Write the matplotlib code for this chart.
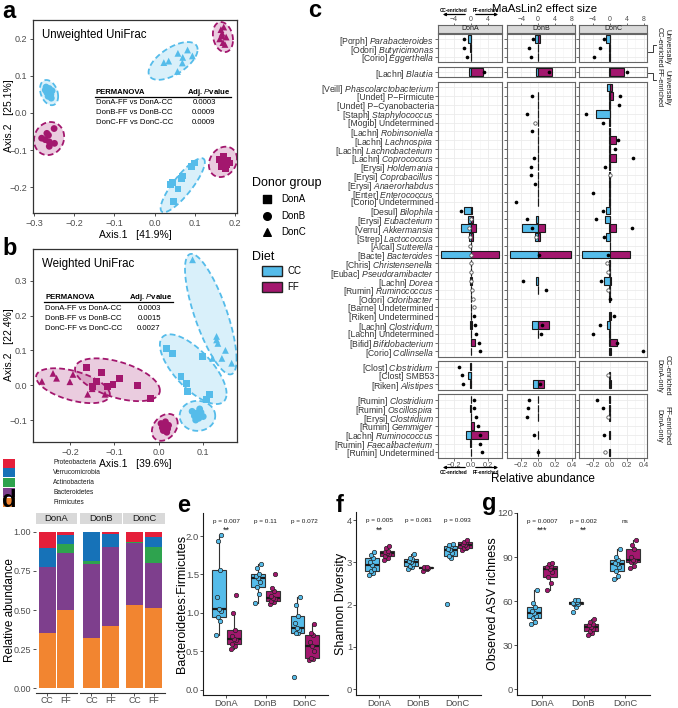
import numpy as np
import matplotlib
matplotlib.use("Agg")
import matplotlib.pyplot as plt
from matplotlib.patches import Rectangle, Polygon

plt.rcParams['font.family'] = ['Liberation Sans', 'DejaVu Sans']
plt.rcParams['mathtext.fontset'] = 'custom'
plt.rcParams['mathtext.rm'] = 'Liberation Sans'
plt.rcParams['mathtext.it'] = 'Liberation Sans:italic'
plt.rcParams['mathtext.bf'] = 'Liberation Sans:bold'

N = np.nan

# ===================== DATA =====================
donors = ['DonA', 'DonB', 'DonC']
diets = ['CC', 'FF']

# (a) Unweighted UniFrac PCoA (Axis.1, Axis.2)
unw_A_CC = [(0.100, -0.135), (0.092, -0.145), (0.070, -0.170), (0.066, -0.176),
            (0.044, -0.188), (0.040, -0.193), (0.048, -0.238), (0.058, -0.205)]
unw_A_FF = [(0.160, -0.125), (0.172, -0.118), (0.182, -0.128), (0.178, -0.140),
            (0.165, -0.145), (0.186, -0.135), (0.170, -0.132), (0.176, -0.150)]
unw_B_CC = [(-0.270, 0.070), (-0.262, 0.066), (-0.255, 0.060), (-0.268, 0.055),
            (-0.258, 0.050), (-0.265, 0.045), (-0.272, 0.062), (-0.257, 0.040)]
unw_B_FF = [(-0.281, -0.068), (-0.264, -0.060), (-0.250, -0.042), (-0.262, -0.078),
            (-0.272, -0.072), (-0.262, -0.090), (-0.249, -0.082), (-0.268, -0.055)]
unw_C_CC = [(0.023, 0.136), (0.035, 0.140), (0.058, 0.161), (0.082, 0.170),
            (0.094, 0.154), (0.069, 0.135), (0.057, 0.112), (0.070, 0.150)]
unw_C_FF = [(0.165, 0.225), (0.172, 0.232), (0.168, 0.215), (0.178, 0.205),
            (0.162, 0.200), (0.170, 0.190), (0.175, 0.185), (0.168, 0.208)]
# group ellipses (centre x, centre y, half-extent x, half-extent y, correlation)
unw_A_CC_ell = (0.070, -0.195, 0.055, 0.073, 0.85)
unw_A_FF_ell = (0.170, -0.132, 0.035, 0.041, 0.2)
unw_B_CC_ell = (-0.2625, 0.055, 0.0225, 0.034, -0.3)
unw_B_FF_ell = (-0.2625, -0.069, 0.0375, 0.0446, 0.1)
unw_C_CC_ell = (0.046, 0.1405, 0.061, 0.051, 0.6)
unw_C_FF_ell = (0.170, 0.205, 0.025, 0.0405, -0.2)

# (b) Weighted UniFrac PCoA
wu_A_CC = [(0.018, 0.106), (0.030, 0.090), (0.063, 0.006), (0.065, -0.017),
           (0.108, -0.040), (0.115, -0.026), (0.099, 0.083), (0.050, 0.025)]
wu_A_FF = [(-0.162, 0.051), (-0.128, 0.037), (-0.088, 0.020), (-0.047, 0.000),
           (-0.018, -0.037), (-0.103, 0.003), (-0.115, -0.003), (-0.140, 0.011), (-0.150, -0.003)]
wu_B_CC = [(0.075, -0.075), (0.085, -0.080), (0.095, -0.078), (0.090, -0.095),
           (0.080, -0.088), (0.100, -0.090), (0.092, -0.068), (0.083, -0.100)]
wu_B_FF = [(0.005, -0.110), (0.012, -0.118), (0.020, -0.125), (0.008, -0.122),
           (0.015, -0.105), (0.022, -0.115), (0.010, -0.130), (0.018, -0.135)]
wu_C_CC = [(0.076, 0.360), (0.130, 0.140), (0.130, 0.130), (0.133, 0.120),
           (0.121, 0.077), (0.142, 0.077), (0.164, 0.063), (0.150, 0.100)]
wu_C_FF = [(-0.263, 0.011), (-0.238, 0.034), (-0.193, 0.031), (-0.160, -0.026),
           (-0.121, -0.026), (-0.200, 0.010), (-0.150, -0.010), (-0.230, 0.020)]
wu_A_CC_ell = (0.0775, 0.046, 0.075, 0.100, -0.7)
wu_A_FF_ell = (-0.093, 0.0157, 0.0955, 0.0614, -0.5)
wu_B_CC_ell = (0.087, -0.088, 0.040, 0.043, 0.0)
wu_B_FF_ell = (0.0135, -0.121, 0.029, 0.0386, 0.3)
wu_C_CC_ell = (0.117, 0.204, 0.058, 0.173, -0.75)
wu_C_FF_ell = (-0.193, -0.0014, 0.083, 0.050, -0.5)

perm_comparisons = ['DonA-FF vs DonA-CC', 'DonB-FF vs DonB-CC', 'DonC-FF vs DonC-CC']
perm_a_pvalues = ['0.0003', '0.0009', '0.0009']
perm_b_pvalues = ['0.0003', '0.0015', '0.0027']

# (c) MaAsLin2: taxa (family, genus, italic) and block sizes
c_taxa = [
    ('Porph', 'Parabacteroides', 1), ('Odori', 'Butyricimonas', 1), ('Corio', 'Eggerthella', 1),
    ('Lachn', 'Blautia', 1),
    ('Veill', 'Phascolarctobacterium', 1), ('Undet', 'P\u2212Firmicute', 0), ('Undet', 'P\u2212Cyanobacteria', 0),
    ('Staph', 'Staphylococcus', 1), ('Mogib', 'Undetermined', 0), ('Lachn', 'Robinsoniella', 1),
    ('Lachn', 'Lachnospira', 1), ('Lachn', 'Lachnobacterium', 1), ('Lachn', 'Coprococcus', 1),
    ('Erysi', 'Holdemania', 1), ('Erysi', 'Coprobacillus', 1), ('Erysi', 'Anaerorhabdus', 1),
    ('Enter', 'Enterococcus', 1), ('Corio', 'Undetermined', 0), ('Desul', 'Bilophila', 1),
    ('Erysi', 'Eubacterium', 1), ('Verru', 'Akkermansia', 1), ('Strep', 'Lactococcus', 1),
    ('Alcal', 'Sutterella', 1), ('Bacte', 'Bacteroides', 1), ('Chris', 'Christensenella', 1),
    ('Eubac', 'Pseudoramibacter', 1), ('Lachn', 'Dorea', 1), ('Rumin', 'Ruminococcus', 1),
    ('Odori', 'Odoribacter', 1), ('Barne', 'Undetermined', 0), ('Riken', 'Undetermined', 0),
    ('Lachn', 'Clostridium', 1), ('Lachn', 'Undetermined', 0), ('Bifid', 'Bifidobacterium', 1),
    ('Corio', 'Collinsella', 1),
    ('Clost', 'Clostridium', 1), ('Clost', 'SMB53', 0), ('Riken', 'Alistipes', 1),
    ('Rumin', 'Clostridium', 1), ('Rumin', 'Oscillospira', 1), ('Erysi', 'Clostridium', 1),
    ('Rumin', 'Gemmiger', 1), ('Lachn', 'Ruminococcus', 1), ('Rumin', 'Faecalibacterium', 1),
    ('Rumin', 'Undetermined', 0),
]
c_block_sizes = [3, 1, 31, 3, 7]
c_block_labels = ['Universally\nCC-enriched', 'Universally\nFF-enriched', '',
                  'CC-enriched\nDonA-only', 'FF-enriched\nDonA-only']

# relative abundance (CC drawn to the left, FF to the right), effect size, open (n.s.) dots
A_cc = [.03, .005, .003, .025, N, N, N, N, N, N, N, N, N, N, N, N, N, N,
        .085, .03, .11, .025, .004, .35, .003, .003, .01, .003, .002, .002, .003, .01, .002, .003, .002,
        .012, .035, .01, .003, .012, .002, .003, .058, .005, .002]
A_ff = [.003, .002, .002, .145, N, N, N, N, N, N, N, N, N, N, N, N, N, N,
        .015, .03, .058, .02, .002, .33, .003, .003, .01, .003, .004, .003, .003, .01, .003, .05, .004,
        .002, .002, .003, .004, .006, .003, .04, .20, .005, .002]
A_eff = [-1.7, -1.5, -0.8, 3.1, N, N, N, N, N, N, N, N, N, N, N, N, N, N,
         -2.3, 0.0, -0.5, -0.1, -0.3, 0.0, 0.0, 0.05, 0.1, 0.23, 0.46, 0.69, 0.77, 0.85, 1.23, 1.85, 2.08,
         -2.7, -2.1, -1.9, 0.77, 0.77, 1.23, 1.6, 2.0, 2.0, 2.5]
A_open = [0, 0, 0, 0, 0, 0, 0, 0, 0, 0, 0, 0, 0, 0, 0, 0, 0, 0,
          0, 1, 1, 1, 1, 1, 1, 1, 1, 1, 1, 1, 0, 0, 0, 0, 0,
          0, 0, 0, 0, 0, 0, 0, 0, 0, 0]

B_cc = [.035, .003, .003, .03, N, .002, .002, .002, .002, .003, .002, .002, .003, .002, .002, .002, .002, .002,
        N, .025, .19, .04, N, .33, N, N, .02, .003, N, N, N, .077, .003, N, N,
        N, N, .058, .002, .003, .002, N, .003, N, .005]
B_ff = [.025, .002, .002, .17, N, .002, .002, .002, .002, .003, .002, .002, .003, .002, .002, .002, .002, .002,
        N, .003, .077, .027, N, .39, N, N, .003, .005, N, N, N, .135, .003, N, N,
        N, N, .07, .002, .003, .002, N, .003, N, .005]
B_eff = [-1.3, -2.2, -1.7, 2.5, N, -1.4, N, -2.6, -0.8, -1.5, N, N, -0.85, -1.6, -1.7, -0.8, N, -5.2,
         N, -2.7, -1.4, -0.4, N, 0.2, N, N, -3.6, 1.9, N, N, N, 0.85, 0.6, N, N,
         N, N, 0.4, -2.15, -2.5, -2.7, N, -0.85, N, -0.1]
B_open = [0, 0, 0, 0, 0, 0, 0, 0, 1, 0, 0, 0, 0, 0, 0, 0, 0, 0,
          0, 0, 0, 1, 0, 0, 0, 0, 0, 0, 0, 0, 0, 0, 0, 0, 0,
          0, 0, 0, 0, 0, 0, 0, 0, 0, 0]

C_cc = [.04, .003, .003, .005, .03, .003, .002, .16, .002, .002, .002, .002, .002, .002, .002, .002, .002, .002,
        .045, .05, .003, .045, .001, .32, .002, .002, .065, .002, .002, N, .003, .03, .002, .003, .003,
        N, .002, .003, .002, .003, .002, N, .005, N, .005]
C_ff = [.003, .002, .002, .17, .03, .045, .002, .002, .002, .002, .075, .002, .075, .002, .004, .002, .002, .002,
        .01, .003, .07, .003, .001, .24, .002, .002, .02, .002, .003, N, .015, .005, .002, .085, .02,
        N, .002, .015, .002, .003, .002, N, .008, N, .005]
C_eff = [-1.4, -2.3, -3.6, 4.2, N, 2.5, 2.1, -5.5, -1.5, N, 2.0, 1.3, 5.5, -1.15, 0.2, N, -3.85, N,
         -1.5, -3.1, 5.2, -1.3, N, -0.4, -0.5, -0.4, -2.1, -0.4, 0.0, N, 1.15, -2.3, -3.85, 1.7, 7.85,
         N, -0.4, N, -2.9, -1.5, -0.4, N, -1.3, N, -1.15]
C_open = [0, 0, 0, 0, 0, 0, 0, 0, 0, 0, 0, 0, 0, 0, 1, 0, 0, 0,
          0, 0, 0, 0, 0, 0, 1, 1, 0, 1, 0, 0, 0, 0, 0, 0, 0,
          0, 1, 0, 0, 0, 1, 0, 0, 0, 1]

# (d) phylum composition, bottom -> top
phyla = ['Firmicutes', 'Bacteroidetes', 'Actinobacteria', 'Verrucomicrobia', 'Proteobacteria']
phyla_colors = ['#F28530', '#7E3F8D', '#2EA34E', '#1672B8', '#E51F3A']
comp_A_CC = [0.355, 0.421, 0.000, 0.123, 0.101]
comp_A_FF = [0.500, 0.367, 0.058, 0.056, 0.019]
comp_B_CC = [0.323, 0.473, 0.017, 0.183, 0.004]
comp_B_FF = [0.400, 0.503, 0.003, 0.077, 0.017]
comp_C_CC = [0.530, 0.400, 0.003, 0.005, 0.062]
comp_C_FF = [0.515, 0.285, 0.100, 0.070, 0.030]

# (e) Bacteroidetes:Firmicutes
e_A_CC = [0.71, 0.90, 0.95, 1.02, 1.05, 1.20, 1.56, 1.93, 2.01]
e_A_FF = [0.53, 0.57, 0.60, 0.64, 0.66, 0.70, 0.78, 1.00, 1.23]
e_B_CC = [1.13, 1.25, 1.34, 1.40, 1.46, 1.48, 1.51, 1.58, 1.63]
e_B_FF = [1.12, 1.14, 1.16, 1.18, 1.19, 1.22, 1.28, 1.32, 1.51]
e_C_CC = [0.17, 0.74, 0.74, 0.77, 0.80, 0.87, 0.96, 1.10, 1.20]
e_C_FF = [0.39, 0.40, 0.41, 0.50, 0.57, 0.62, 0.71, 0.74, 0.85]
e_ptext = ['p = 0.007', 'p = 0.11', 'p = 0.072']
e_stars = ['**', '', '']

# (f) Shannon diversity
f_A_CC = [2.70, 2.75, 2.80, 2.85, 2.93, 3.00, 3.10, 3.18, 3.25]
f_A_FF = [3.05, 3.10, 3.15, 3.20, 3.22, 3.24, 3.27, 3.33, 3.38]
f_B_CC = [2.85, 2.90, 2.92, 2.97, 3.00, 3.03, 3.07, 3.10, 3.20]
f_B_FF = [2.80, 2.85, 2.86, 2.87, 2.875, 2.88, 2.89]
f_C_CC = [2.02, 3.10, 3.16, 3.22, 3.28, 3.31, 3.38, 3.40, 3.43]
f_C_FF = [3.30, 3.33, 3.33, 3.37, 3.40, 3.43, 3.47, 3.49, 3.52]
f_ptext = ['p = 0.005', 'p = 0.081', 'p = 0.093']
f_stars = ['**', '', '']

# (g) Observed ASV richness
g_A_CC = [44.5, 46, 48.2, 50, 51.6, 53, 56.1, 59, 67.5]
g_A_FF = [67.5, 72, 76.5, 80, 82, 83, 84, 85, 85.6]
g_B_CC = [52.5, 56, 57.7, 58.2, 58.6, 59, 59.5, 60.5, 61]
g_B_FF = [37, 38.5, 39.8, 41, 42.6, 43.5, 44.4, 46, 48]
g_C_CC = [74.7, 77, 80.4, 83, 85, 86, 87.8, 90, 95.8]
g_C_FF = [82.6, 84, 86.3, 87, 87.8, 90, 95.8, 98, 101.9]
g_ptext = ['p = 0.0007', 'p = 0.002', 'ns']
g_stars = ['***', '**', '']

# ===================== STYLE / HELPERS =====================
W, H = 678, 708
fig = plt.figure(figsize=(W / 100, H / 100), dpi=100)
CC_COL = '#55BCEA'
FF_COL = '#A3176E'
DIET_COL = {'CC': CC_COL, 'FF': FF_COL}
TXT_GREY = '#4D4D4D'


def px_rect(l, t, r, b):
    return [l / W, 1 - b / H, (r - l) / W, (b - t) / H]


def mfmt(v, d=1):
    return f"{v:.{d}f}".replace('-', '\u2212')


ov = fig.add_axes([0, 0, 1, 1], zorder=20)
ov.set_xlim(0, W)
ov.set_ylim(H, 0)
ov.axis('off')
ov.patch.set_alpha(0)


def ellipse_pts(ell, seg=120):
    cx, cy, rx, ry, rho = ell
    t = np.linspace(0, 2 * np.pi, seg)
    x = cx + rx * np.cos(t)
    y = cy + ry * (rho * np.cos(t) + np.sqrt(1 - rho ** 2) * np.sin(t))
    return np.column_stack([x, y])


def pcoa_panel(ax, groups, xlim, ylim, xticks, yticks, title, xlab):
    for pts, ell, diet, mk in groups:
        col = DIET_COL[diet]
        e = ellipse_pts(ell)
        ax.add_patch(Polygon(e, closed=True, facecolor=col, alpha=0.22, edgecolor='none', zorder=1))
        ax.add_patch(Polygon(e, closed=True, facecolor='none', edgecolor=col,
                             linestyle=(0, (3.2, 1.8)), lw=1.3, zorder=2))
    for pts, ell, diet, mk in groups:
        P = np.asarray(pts)
        ax.scatter(P[:, 0], P[:, 1], marker=mk, s=24, color=DIET_COL[diet], edgecolors='none', zorder=3)
    ax.set_xlim(*xlim)
    ax.set_ylim(*ylim)
    ax.set_xticks(xticks)
    ax.set_xticklabels([mfmt(v) for v in xticks])
    ax.set_yticks(yticks)
    ax.set_yticklabels([mfmt(v) for v in yticks])
    for s in ax.spines.values():
        s.set_color('#333333')
        s.set_linewidth(0.9)
    ax.tick_params(direction='out', length=2.5, width=0.6, colors='#333333',
                   labelsize=6.5, labelcolor=TXT_GREY, pad=1.5)
    ax.set_xlabel(xlab, fontsize=7.5, labelpad=2)
    ax.text(0.045, 0.955, title, transform=ax.transAxes, fontsize=8.3, va='top', ha='left')


# ===================== PANEL a =====================
axa = fig.add_axes(px_rect(33, 20, 237, 213))
pcoa_panel(axa,
           [(unw_A_CC, unw_A_CC_ell, 'CC', 's'), (unw_A_FF, unw_A_FF_ell, 'FF', 's'),
            (unw_B_CC, unw_B_CC_ell, 'CC', 'o'), (unw_B_FF, unw_B_FF_ell, 'FF', 'o'),
            (unw_C_CC, unw_C_CC_ell, 'CC', '^'), (unw_C_FF, unw_C_FF_ell, 'FF', '^')],
           (-0.3025, 0.205), (-0.270, 0.251),
           [-0.3, -0.2, -0.1, 0.0, 0.1, 0.2], [-0.2, -0.1, 0.0, 0.1, 0.2],
           'Unweighted UniFrac', 'Axis.1   [41.9%]')
ov.text(9, 116, 'Axis.2   [25.1%]', rotation=90, fontsize=7.5, ha='center', va='center')

# ===================== PANEL b =====================
axb = fig.add_axes(px_rect(33, 249, 237, 442))
pcoa_panel(axb,
           [(wu_A_CC, wu_A_CC_ell, 'CC', 's'), (wu_A_FF, wu_A_FF_ell, 'FF', 's'),
            (wu_B_CC, wu_B_CC_ell, 'CC', 'o'), (wu_B_FF, wu_B_FF_ell, 'FF', 'o'),
            (wu_C_CC, wu_C_CC_ell, 'CC', '^'), (wu_C_FF, wu_C_FF_ell, 'FF', '^')],
           (-0.283, 0.176), (-0.163, 0.391),
           [-0.2, -0.1, 0.0, 0.1], [-0.1, 0.0, 0.1, 0.2, 0.3],
           'Weighted UniFrac', 'Axis.1   [39.6%]')
ov.text(9, 345, 'Axis.2   [22.4%]', rotation=90, fontsize=7.5, ha='center', va='center')


def perm_table(x0, x1, xval, yhead, rows_y, pvals):
    ov.text(x0, yhead, 'PERMANOVA', fontsize=5.6, fontweight='bold', ha='left', va='center')
    ov.text(x1, yhead, r'Adj. $\mathbf{\mathit{P}}$value', fontsize=5.6, fontweight='bold',
            ha='right', va='center')
    ov.plot([x0 - 1, x1 + 1], [yhead + 4.5, yhead + 4.5], color='black', lw=0.9)
    for yy, comp, p in zip(rows_y, perm_comparisons, pvals):
        ov.text(x0, yy, comp, fontsize=5.6, ha='left', va='center')
        ov.text(xval, yy, p, fontsize=5.6, ha='center', va='center')


perm_table(96, 230, 204, 92, [102, 112, 122], perm_a_pvalues)
perm_table(45, 172, 149, 297.5, [308, 318, 328], perm_b_pvalues)

# legend (donor group / diet)
ov.text(252, 183, 'Donor group', fontsize=9, ha='left', va='center')
for yy, mk, lab in zip([199, 216, 232], ['s', 'o', '^'], donors):
    ov.scatter([267], [yy], marker=mk, s=30, color='black')
    ov.text(281, yy, lab, fontsize=7, ha='left', va='center')
ov.text(252, 257, 'Diet', fontsize=9, ha='left', va='center')
for yy, d in zip([271, 287], diets):
    ov.add_patch(Rectangle((262, yy - 5), 20, 10, facecolor=DIET_COL[d], edgecolor='#222222', lw=1.0))
    ov.text(287, yy, d, fontsize=7, ha='left', va='center')

# ===================== PANEL c =====================
c_cols_px = [(438, 502), (507, 575), (579, 647)]
c_xlims = [(-0.38, 0.36), (-0.37, 0.44), (-0.36, 0.44)]
c_xticks = [[-0.2, 0.0, 0.2], [-0.2, 0.0, 0.2, 0.4], [-0.2, 0.0, 0.2, 0.4]]
c_unit = 8.8
c_gap = 4.7
c_rows_px = []
ytop = 34.0
for nb in c_block_sizes:
    hh = (nb + 0.2) * c_unit
    c_rows_px.append((ytop, ytop + hh))
    ytop += hh + c_gap
c_label_y = [47, 88, None, None, None]

c_data = [(A_cc, A_ff, A_eff, A_open), (B_cc, B_ff, B_eff, B_open), (C_cc, C_ff, C_eff, C_open)]
labels_c = [f"[{fam}] $\\mathit{{{gen}}}$" if it else f"[{fam}] {gen}" for fam, gen, it in c_taxa]

start = 0
for bi, nb in enumerate(c_block_sizes):
    idx = np.arange(start, start + nb)
    t, b = c_rows_px[bi]
    for k in range(3):
        l, r = c_cols_px[k]
        ax = fig.add_axes(px_rect(l, t, r, b))
        cc, ff, eff, opn = [np.asarray(v, float) for v in c_data[k]]
        yy = np.arange(nb)
        ccv, ffv = cc[idx], ff[idx]
        m1 = ~np.isnan(ccv)
        ax.barh(yy[m1], -ccv[m1], height=0.86, color=CC_COL, edgecolor='#1a1a1a', lw=0.8, zorder=3)
        m2 = ~np.isnan(ffv)
        ax.barh(yy[m2], ffv[m2], height=0.86, color=FF_COL, edgecolor='#1a1a1a', lw=0.8, zorder=3)
        ev, ov_ = eff[idx], opn[idx]
        mf = (~np.isnan(ev)) & (ov_ == 0)
        mo = (~np.isnan(ev)) & (ov_ == 1)
        ax.scatter(ev[mf] / 20.0, yy[mf], s=7, color='black', zorder=4, linewidths=0)
        ax.scatter(ev[mo] / 20.0, yy[mo], s=6, facecolor='white', edgecolor='#555555', lw=0.6, zorder=4)
        ax.set_xlim(*c_xlims[k])
        ax.set_ylim(nb - 0.4, -0.6)
        xt = c_xticks[k]
        ax.set_xticks(xt)
        minors = [v + 0.1 for v in xt[:-1]] + [xt[0] - 0.1]
        if xt[-1] + 0.1 < c_xlims[k][1]:
            minors.append(xt[-1] + 0.1)
        ax.set_xticks(minors, minor=True)
        ax.set_yticks(yy)
        ax.grid(True, which='major', color='#EBEBEB', lw=0.6, zorder=0)
        ax.grid(True, which='minor', axis='x', color='#F4F4F4', lw=0.4, zorder=0)
        ax.set_axisbelow(True)
        for s in ax.spines.values():
            s.set_color('#666666')
            s.set_linewidth(0.8)
        ax.tick_params(which='minor', length=0)
        ax.tick_params(axis='x', which='major', direction='out', length=2, width=0.5,
                       colors='#333333', labelsize=5.3, labelcolor=TXT_GREY, pad=1.2)
        ax.tick_params(axis='y', direction='out', length=2, width=0.5, colors='#333333', pad=1)
        if k == 0:
            ax.set_yticklabels([labels_c[i] for i in idx], fontsize=6.2, color='#333333')
        else:
            ax.tick_params(axis='y', labelleft=False)
        if bi == len(c_block_sizes) - 1:
            ax.set_xticklabels([mfmt(v) for v in xt])
        else:
            ax.tick_params(axis='x', labelbottom=False, length=0)
        if bi == 0:
            # strip with secondary (effect size) axis on top
            sax = fig.add_axes(px_rect(l, 25, r, 33))
            sax.set_facecolor('#D9D9D9')
            sax.set_xlim(c_xlims[k][0] * 20, c_xlims[k][1] * 20)
            sax.set_ylim(0, 1)
            sax.set_yticks([])
            top_t = [v * 20 for v in xt]
            sax.set_xticks(top_t)
            sax.set_xticklabels([mfmt(v, 0) for v in top_t])
            sax.xaxis.set_ticks_position('top')
            sax.tick_params(axis='x', direction='out', length=1.5, width=0.5, colors='#333333',
                            labelsize=5.0, labelcolor=TXT_GREY, pad=0.2)
            for s in sax.spines.values():
                s.set_color('#666666')
                s.set_linewidth(0.8)
            sax.text(0.5, 0.5, donors[k], transform=sax.transAxes, fontsize=5.0,
                     ha='center', va='center', color='#1a1a1a')
    if c_block_labels[bi]:
        ly = c_label_y[bi] if c_label_y[bi] is not None else (t + b) / 2
        ov.text(663, ly, c_block_labels[bi], rotation=-90, fontsize=5.2,
                ha='center', va='center', linespacing=1.1, color='#1a1a1a')
    start += nb

# brackets linking the "universally" labels to their rows
ov.plot([648, 653, 653, 656], [52, 52, 45, 45], color='#1a1a1a', lw=0.6)
ov.plot([648, 653, 653, 656], [73, 73, 80, 80], color='#1a1a1a', lw=0.6)

ov.text(545, 8.5, 'MaAsLin2 effect size', fontsize=8.2, ha='center', va='center')
ov.text(543, 479, 'Relative abundance', fontsize=8.5, ha='center', va='center')
for yy_arrow, yy_txt in [(14.5, 11.0), (467.5, 472.5)]:
    ov.annotate('', xy=(440, yy_arrow), xytext=(468, yy_arrow),
                arrowprops=dict(arrowstyle='-|>', lw=0.9, color='black', mutation_scale=4))
    ov.annotate('', xy=(501, yy_arrow), xytext=(473, yy_arrow),
                arrowprops=dict(arrowstyle='-|>', lw=0.9, color='black', mutation_scale=4))
    ov.text(454, yy_txt, 'CC-enriched', fontsize=3.3, ha='center', va='center', fontweight='bold')
    ov.text(486, yy_txt, 'FF-enriched', fontsize=3.3, ha='center', va='center', fontweight='bold')

# ===================== PANEL d =====================
d_cols_px = [(36, 77), (80, 122), (123, 165)]
d_comp = {'DonA': (comp_A_CC, comp_A_FF), 'DonB': (comp_B_CC, comp_B_FF), 'DonC': (comp_C_CC, comp_C_FF)}
for k, don in enumerate(donors):
    l, r = d_cols_px[k]
    ax = fig.add_axes(px_rect(l, 524, r, 693))
    for xi, comp in zip([1, 2], d_comp[don]):
        bottom = 0.0
        for val, col in zip(comp, phyla_colors):
            ax.bar(xi, val, bottom=bottom, width=0.9, color=col, edgecolor='none')
            bottom += val
    ax.set_xlim(0.4, 2.6)
    ax.set_ylim(-0.03, 1.05)
    ax.set_xticks([1, 2])
    ax.set_xticklabels(diets)
    for side in ['top', 'right', 'left']:
        ax.spines[side].set_visible(False)
    ax.spines['bottom'].set_color('#333333')
    ax.spines['bottom'].set_linewidth(0.8)
    ax.tick_params(axis='x', direction='out', length=2.0, width=0.6, colors='#333333',
                   labelsize=6.3, labelcolor=TXT_GREY, pad=0.5)
    yt = [0.0, 0.25, 0.5, 0.75, 1.0]
    ax.set_yticks(yt)
    if k == 0:
        ax.set_yticklabels([f"{v:.2f}" for v in yt])
        ax.tick_params(axis='y', direction='out', length=2.5, width=0.6, colors='#333333',
                       labelsize=6.5, labelcolor=TXT_GREY, pad=1)
    else:
        ax.tick_params(axis='y', left=False, labelleft=False)
    sax = fig.add_axes(px_rect(l, 513, r, 524))
    sax.set_facecolor('#D9D9D9')
    sax.set_xticks([])
    sax.set_yticks([])
    for s in sax.spines.values():
        s.set_visible(False)
    sax.text(0.5, 0.5, don, transform=sax.transAxes, fontsize=6.8, ha='center', va='center', color='#1a1a1a')
ov.text(10, 610, 'Relative abundance', rotation=90, fontsize=8.5, ha='center', va='center')

for i, (ph, col) in enumerate(zip(phyla[::-1], phyla_colors[::-1])):
    yy = 463 + i * 9.8
    ov.add_patch(Rectangle((3, yy - 4.5), 12, 9, facecolor=col, edgecolor='none'))
    ov.text(53, yy, ph, fontsize=4.8, ha='left', va='center', color='#1a1a1a')

# ===================== PANELS e, f, g =====================


def box_panel(rect, groups, ylim, yticks, ylabel, ylab_x, ptexts, stars, y_p, y_star):
    ax = fig.add_axes(px_rect(*rect))
    for i, (vcc, vff) in enumerate(groups):
        for vals, diet, off in [(vcc, 'CC', -0.19), (vff, 'FF', 0.19)]:
            col = DIET_COL[diet]
            pos = i + off
            ax.boxplot([vals], positions=[pos], widths=0.34, patch_artist=True, showfliers=False,
                       whis=1.5, showcaps=False,
                       boxprops=dict(facecolor=col, edgecolor='#333333', lw=0.8),
                       medianprops=dict(color='#1a1a1a', lw=1.6),
                       whiskerprops=dict(color='#333333', lw=0.8), manage_ticks=False)
            v = np.asarray(vals)
            n = len(v)
            jit = (((np.arange(n) * 0.618) % 1.0) - 0.5) * 0.14
            ax.scatter(pos + jit, v, s=10, facecolor=col, edgecolor='#222222', lw=0.5, zorder=4)
        ax.text(i, y_p, ptexts[i], fontsize=4.6, ha='center', va='center', color='#1a1a1a')
        if stars[i]:
            ax.text(i, y_star, stars[i], fontsize=6.5, ha='center', va='center', color='#1a1a1a')
    ax.set_xlim(-0.6, 2.6)
    ax.set_ylim(*ylim)
    ax.set_xticks([0, 1, 2])
    ax.set_xticklabels(donors)
    ax.set_yticks(yticks)
    ax.set_yticklabels([f"{v:g}" if isinstance(v, int) else f"{v:.1f}" for v in yticks])
    for side in ['top', 'right']:
        ax.spines[side].set_visible(False)
    for side in ['left', 'bottom']:
        ax.spines[side].set_color('#1a1a1a')
        ax.spines[side].set_linewidth(0.8)
    ax.tick_params(direction='out', length=2.0, width=0.6, colors='#333333',
                   labelsize=6.8, labelcolor=TXT_GREY, pad=0.8)
    ov.text(ylab_x, (rect[1] + rect[3]) / 2, ylabel, rotation=90, fontsize=9, ha='center', va='center')
    return ax


box_panel((203, 513, 328, 695),
          [(e_A_CC, e_A_FF), (e_B_CC, e_B_FF), (e_C_CC, e_C_FF)],
          (-0.07, 2.3), [0.0, 0.5, 1.0, 1.5, 2.0], 'Bacteroidetes:Firmicutes', 182,
          e_ptext, e_stars, 2.19, 2.07)
box_panel((356, 512, 481, 695),
          [(f_A_CC, f_A_FF), (f_B_CC, f_B_FF), (f_C_CC, f_C_FF)],
          (-0.14, 4.19), [0, 1, 2, 3, 4], 'Shannon Diversity', 341,
          f_ptext, f_stars, 3.98, 3.76)
box_panel((517, 513, 650, 695),
          [(g_A_CC, g_A_FF), (g_B_CC, g_B_FF), (g_C_CC, g_C_FF)],
          (-4.0, 120), [0, 30, 60, 90, 120], 'Observed ASV richness', 493,
          g_ptext, g_stars, 114.5, 108.3)

# panel letters
for lab, x, y in [('a', 2, 18), ('b', 2, 255), ('c', 308, 17), ('d', 2, 507),
                  ('e', 177, 512), ('f', 336, 512), ('g', 482, 510)]:
    ov.text(x, y, lab, fontsize=17, fontweight='bold', ha='left', va='baseline')

fig.savefig('out.png', dpi=100)
